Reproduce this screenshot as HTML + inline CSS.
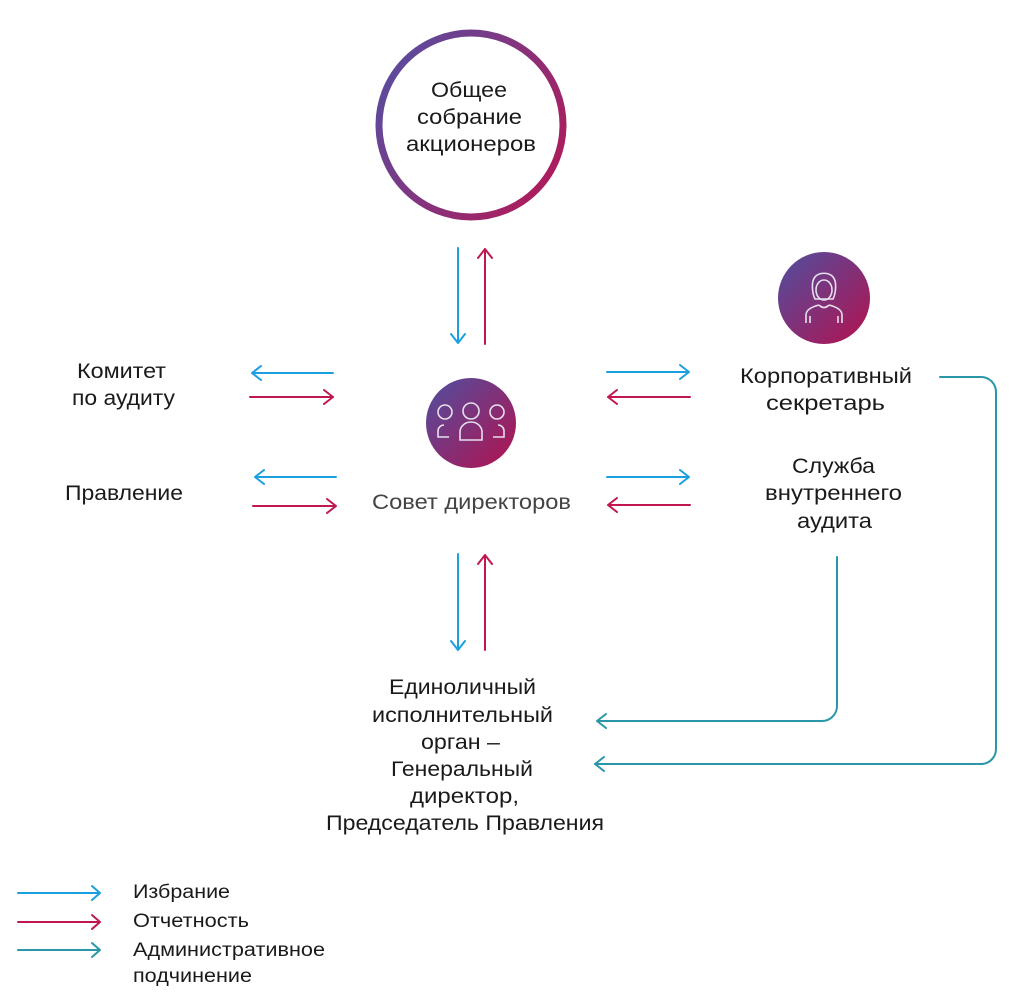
<!DOCTYPE html>
<html><head><meta charset="utf-8"><style>html,body{margin:0;padding:0;background:#fff}svg{display:block}text{font-family:"Liberation Sans",sans-serif;font-size:21px;fill:#1a1a1a}</style></head><body>
<svg width="1024" height="1005" viewBox="0 0 1024 1005" xmlns="http://www.w3.org/2000/svg">
<defs>
<linearGradient id="g" x1="0" y1="0" x2="1" y2="1"><stop offset="0" stop-color="#4f4fa0"/><stop offset="1" stop-color="#b3124f"/></linearGradient>
<linearGradient id="g2" x1="0" y1="0.2" x2="1" y2="0.8"><stop offset="0" stop-color="#5a4c9e"/><stop offset="1" stop-color="#b01a5a"/></linearGradient>
</defs>
<circle cx="471" cy="125" r="92" fill="#fff" stroke="url(#g2)" stroke-width="7"/>
<text x="431" y="97" textLength="76" lengthAdjust="spacingAndGlyphs">Общее</text>
<text x="417" y="124" textLength="105" lengthAdjust="spacingAndGlyphs">собрание</text>
<text x="406" y="151" textLength="130" lengthAdjust="spacingAndGlyphs">акционеров</text>

<circle cx="471" cy="423" r="45" fill="url(#g)"/>
<g fill="none" stroke="#e6e0ee" stroke-width="1.6">
<circle cx="445" cy="412" r="7"/><circle cx="471" cy="411" r="8"/><circle cx="497" cy="412" r="7"/>
<path d="M460 440 v-8 a11 10 0 0 1 22 0 v8 z"/>
<path d="M449 437 h-11 v-6 a6 6 0 0 1 6 -6"/><path d="M493 437 h11 v-6 a6 6 0 0 0 -6 -6"/>
</g>
<circle cx="824" cy="298" r="46" fill="url(#g)"/>
<g fill="none" stroke="#e6e0ee" stroke-width="1.6">
<path d="M815 299 c-3 -6 -4 -18 0 -22 c4 -5 14 -5 18 0 c4 4 3 16 0 22 z"/>
<ellipse cx="824" cy="290" rx="8" ry="10"/>
<path d="M819 305 c-8 2 -13 5 -13 10 v8 M829 305 c8 2 13 5 13 10 v8 M810 316 v7 M838 316 v7"/>
<path d="M819 305 q5 5 10 0"/>
</g>
<text x="372" y="509" textLength="199" lengthAdjust="spacingAndGlyphs" style="fill:#444">Совет директоров</text>
<text x="77" y="378" textLength="89" lengthAdjust="spacingAndGlyphs">Комитет</text>
<text x="72" y="405" textLength="103" lengthAdjust="spacingAndGlyphs">по аудиту</text>
<text x="65" y="500" textLength="118" lengthAdjust="spacingAndGlyphs">Правление</text>
<text x="740" y="383" textLength="172" lengthAdjust="spacingAndGlyphs">Корпоративный</text>
<text x="766" y="410" textLength="119" lengthAdjust="spacingAndGlyphs">секретарь</text>
<text x="792" y="473" textLength="83" lengthAdjust="spacingAndGlyphs">Служба</text>
<text x="765" y="500" textLength="137" lengthAdjust="spacingAndGlyphs">внутреннего</text>
<text x="797" y="528" textLength="75" lengthAdjust="spacingAndGlyphs">аудита</text>
<text x="389" y="694" textLength="147" lengthAdjust="spacingAndGlyphs">Единоличный</text>
<text x="372" y="722" textLength="181" lengthAdjust="spacingAndGlyphs">исполнительный</text>
<text x="421" y="749" textLength="79" lengthAdjust="spacingAndGlyphs">орган –</text>
<text x="391" y="776" textLength="142" lengthAdjust="spacingAndGlyphs">Генеральный</text>
<text x="410" y="803" textLength="109" lengthAdjust="spacingAndGlyphs">директор,</text>
<text x="326" y="830" textLength="278" lengthAdjust="spacingAndGlyphs">Председатель Правления</text>

<g fill="none" stroke-width="2" stroke-linecap="round" stroke-linejoin="round">
<g stroke="#1a9fe0">
<path d="M458 248 V343 M451 334 l7 9 l7 -9"/>
<path d="M458 554 V650 M451 641 l7 9 l7 -9"/>
<path d="M333 373 H252 M261 366 l-9 7 l9 7"/>
<path d="M336 477 H255 M264 470 l-9 7 l9 7"/>
<path d="M607 372 H689 M680 365 l9 7 l-9 7"/>
<path d="M607 477 H689 M680 470 l9 7 l-9 7"/>
<path d="M18 893 H100 M92 886 l8 7 l-8 7"/>
</g>
<g stroke="#c0174f">
<path d="M485 344 V249 M478 258 l7 -9 l7 9"/>
<path d="M485 650 V555 M478 564 l7 -9 l7 9"/>
<path d="M250 397 H333 M324 390 l9 7 l-9 7"/>
<path d="M253 506 H336 M327 499 l9 7 l-9 7"/>
<path d="M690 397 H608 M617 390 l-9 7 l9 7"/>
<path d="M690 505 H608 M617 498 l-9 7 l9 7"/>
<path d="M18 922 H100 M92 915 l8 7 l-8 7"/>
</g>
<g stroke="#2a97a8">
<path d="M837 557 V706 a15 15 0 0 1 -15 15 H597 M606 714 l-9 7 l9 7"/>
<path d="M940 377 H981 a15 15 0 0 1 15 15 V749 a15 15 0 0 1 -15 15 H595 M604 757 l-9 7 l9 7"/>
<path d="M18 950 H100 M92 943 l8 7 l-8 7"/>
</g>
</g>
<text x="133" y="898" textLength="97" lengthAdjust="spacingAndGlyphs" style="font-size:19px">Избрание</text>
<text x="133" y="927" textLength="116" lengthAdjust="spacingAndGlyphs" style="font-size:19px">Отчетность</text>
<text x="133" y="956" textLength="192" lengthAdjust="spacingAndGlyphs" style="font-size:19px">Административное</text>
<text x="133" y="982" textLength="119" lengthAdjust="spacingAndGlyphs" style="font-size:19px">подчинение</text>
</svg>
</body></html>
